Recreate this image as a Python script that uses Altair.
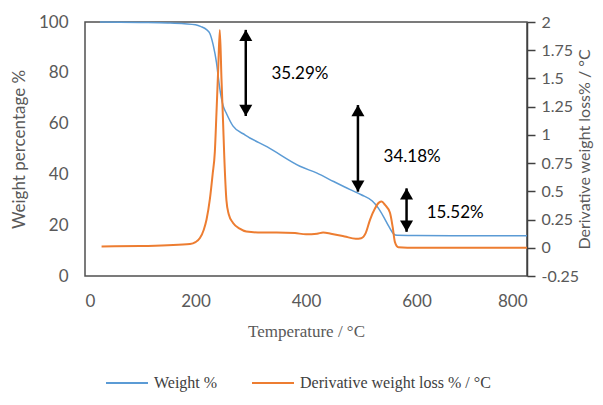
import altair as alt
import pandas as pd

# Weight % curve
w_temp = [27, 100, 150, 180, 200, 210, 220, 226, 232, 238, 242, 246, 250, 256, 268, 290, 330, 389, 420,
          450, 480, 500, 520, 530, 540, 550, 558, 565, 600, 700, 800]
w_val = [100, 99.8, 99.6, 99.3, 98.9, 98.2, 97.0, 95.5, 91.0, 84.0, 77.0, 71.0, 67.0, 64.0, 59.0, 55.5,
         50.8, 43.2, 40.5, 37.2, 34.0, 32.0, 29.5, 27.0, 23.5, 19.5, 16.7, 16.0, 15.9, 15.8, 15.8]

# Derivative weight loss curve
d_temp = [30, 100, 150, 190, 200, 208, 215, 220, 226, 231, 235, 238, 241, 244, 247, 250, 252, 256, 260,
          268, 280, 292, 320, 347, 380, 400, 420, 431, 445, 470, 490, 500, 508, 516, 525, 532, 537, 543,
          552, 557, 561, 567, 600, 700, 800]
d_val = [0.012, 0.015, 0.022, 0.033, 0.05, 0.086, 0.16, 0.25, 0.43, 0.65, 0.85, 1.2, 1.57, 1.93, 1.5,
         1.1, 0.82, 0.42, 0.3, 0.22, 0.17, 0.145, 0.135, 0.136, 0.13, 0.12, 0.125, 0.135, 0.125, 0.1,
         0.08, 0.085, 0.13, 0.25, 0.35, 0.4, 0.41, 0.38, 0.31, 0.18, 0.05, 0.005, 0.0, 0.0, 0.0]

# Annotations (double arrows and labels)
arrow_temp = [291, 494, 582]
arrow_top = [96.9, 67.3, 34.5]
arrow_bottom = [63.0, 33.2, 17.4]
label_text = ["35.29%", "34.18%", "15.52%"]
label_temp = [389, 592, 670]
label_weight = [79.5, 46.9, 24.8]

series = ["Weight %", "Derivative weight loss % / °C"]
colors = ["#5B9BD5", "#ED7D31"]

df_w = pd.DataFrame({"temp": w_temp, "weight": w_val, "series": series[0]})
df_d = pd.DataFrame({"temp": d_temp, "deriv": d_val, "series": series[1]})
df_arrow = pd.DataFrame({"temp": arrow_temp, "weight": arrow_top, "weight2": arrow_bottom})
df_up = pd.DataFrame({"temp": arrow_temp, "weight": arrow_top})
df_down = pd.DataFrame({"temp": arrow_temp, "weight": arrow_bottom})
df_lab = pd.DataFrame({"temp": label_temp, "weight": label_weight, "text": label_text})

SANS = "Lato"
SERIF = "Liberation Serif"
GRAY = "#595959"

x_enc = alt.X("temp:Q", scale=alt.Scale(domain=[0, 800], nice=False),
              axis=alt.Axis(values=[0, 200, 400, 600, 800], title="Temperature / °C",
                            titleFont=SERIF, titleFontSize=17, titleFontWeight="normal",
                            labelPadding=17, titlePadding=14))
y_left = alt.Y("weight:Q", scale=alt.Scale(domain=[0, 100], nice=False),
               axis=alt.Axis(values=[0, 20, 40, 60, 80, 100], title="Weight percentage %",
                             titleFont=SANS, titleFontSize=17, titleFontWeight="normal",
                             labelPadding=17, titlePadding=10, orient="left"))
y_right = alt.Y("deriv:Q", scale=alt.Scale(domain=[-0.25, 2], nice=False),
                axis=alt.Axis(values=[-0.25, 0, 0.25, 0.5, 0.75, 1, 1.25, 1.5, 1.75, 2],
                              labelExpr="toString(datum.value)", orient="right",
                              labelFontSize=16,
                              title="Derivative weight loss% / °C", titleAngle=270,
                              titleFont=SANS, titleFontSize=16, titleFontWeight="normal",
                              ticks=True, tickSize=8, tickColor="#404040", tickWidth=1.5,
                              labelPadding=6, titlePadding=14))

color_enc = alt.Color("series:N", sort=None,
                      scale=alt.Scale(domain=series, range=colors),
                      legend=alt.Legend(orient="none", legendX=20, legendY=339,
                                        direction="horizontal", columns=2, title=None,
                                        symbolType="stroke", symbolSize=1764,
                                        symbolStrokeWidth=2, labelFont=SERIF,
                                        labelFontSize=16, labelColor="#404040",
                                        labelLimit=400,
                                        labelOffset=5, columnPadding=30))

blue = alt.Chart(df_w).mark_line(strokeWidth=1.5, interpolate="monotone").encode(
    x=x_enc, y=y_left, color=color_enc)
rules = alt.Chart(df_arrow).mark_rule(color="black", strokeWidth=2.5).encode(
    x=x_enc, y=y_left, y2="weight2:Q")
ups = alt.Chart(df_up).mark_point(shape="triangle-up", filled=True, size=170, color="black",
                                  opacity=1, yOffset=5.6).encode(x=x_enc, y=y_left)
downs = alt.Chart(df_down).mark_point(shape="triangle-down", filled=True, size=170, color="black",
                                      opacity=1, yOffset=-5.6).encode(x=x_enc, y=y_left)
labels = alt.Chart(df_lab).mark_text(font=SANS, fontSize=17, color="black", align="center").encode(
    x=x_enc, y=y_left, text="text:N")

left = alt.layer(blue, rules, ups, downs, labels)

orange = alt.Chart(df_d).mark_line(strokeWidth=2, interpolate="monotone").encode(
    x=x_enc, y=y_right, color=color_enc)

chart = alt.layer(left, orange).resolve_scale(y="independent").properties(
    width=442, height=254,
    autosize=alt.AutoSizeParams(type="none"),
    padding={"left": 77, "top": 14, "right": 68, "bottom": 118},
).configure_view(stroke="#505050", strokeWidth=1.5).configure_axis(
    grid=False, ticks=False, domain=False, labelFont=SANS, labelFontSize=17,
    labelColor=GRAY, titleColor=GRAY
).configure_axisRight(ticks=True, domain=True, domainColor="#404040", domainWidth=1.5)

chart.save("out.html", embed_options={"renderer": "svg", "actions": False})
